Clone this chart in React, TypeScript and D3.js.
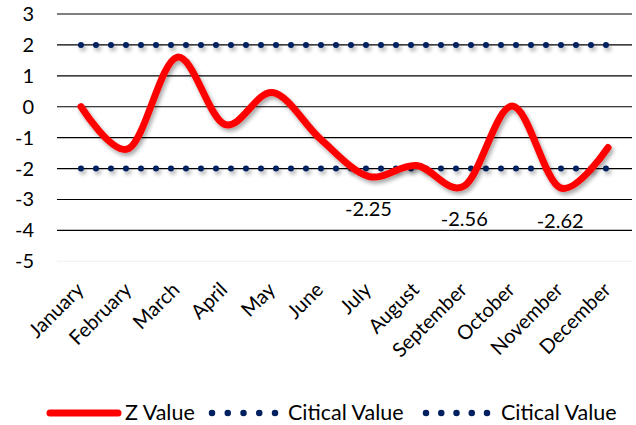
import React from "react";
import * as d3 from "d3";

const months = ["January","February","March","April","May","June","July","August","September","October","November","December"];
const zValues = [0, -1.35, 1.6, -0.57, 0.46, -1.05, -2.25, -1.9, -2.56, 0.02, -2.62, -1.32];
const upperCritical = [2,2,2,2,2,2,2,2,2,2,2,2];
const lowerCritical = [-2,-2,-2,-2,-2,-2,-2,-2,-2,-2,-2,-2];
const yTicks = [3,2,1,0,-1,-2,-3,-4,-5];
const labeledPoints = [6, 8, 10];
const legendItems = ["Z Value", "Citical Value", "Citical Value"];

const W = 636, H = 425;
const FONT = "Lato, Carlito, Calibri, sans-serif";

export default function App() {
  const x = d3.scaleBand<string>().domain(months).range([57, 632]);
  const cx = (m: string) => (x(m) as number) + x.bandwidth() / 2;
  const y = d3.scaleLinear().domain([-5, 3]).range([261.3, 14]);
  const line = d3.line<number>()
    .x((_, i) => cx(months[i]))
    .y((d) => y(d))
    .curve(d3.curveCardinal.tension(0));
  const straight = d3.line<number>()
    .x((_, i) => cx(months[i]))
    .y((d) => y(d));

  return (
    <svg width={W} height={H} style={{ position: "absolute", left: 0, top: 0, background: "#fff" }} fontFamily={FONT}>
      <defs>
        <filter id="sh" filterUnits="userSpaceOnUse" x={0} y={0} width={W} height={H}>
          <feGaussianBlur in="SourceAlpha" stdDeviation="2" />
          <feOffset dx="2" dy="3" result="b" />
          <feComponentTransfer><feFuncA type="linear" slope="0.35" /></feComponentTransfer>
          <feMerge><feMergeNode /><feMergeNode in="SourceGraphic" /></feMerge>
        </filter>
      </defs>
      {yTicks.map((t) => (
        <g key={t}>
          <line x1={57} x2={632} y1={y(t)} y2={y(t)} stroke={t === -5 ? "#f0f0f0" : "#000"} strokeWidth={t === -5 ? 1 : 1.2} />
          <text x={34} y={y(t)} dy="0.35em" textAnchor="end" fontSize={20} fill="#000">{t}</text>
        </g>
      ))}
      {[upperCritical, lowerCritical].map((s, k) => (
        <path key={k} d={straight(s) as string} fill="none" stroke="#002060" strokeWidth={6} strokeDasharray="0 15" strokeLinecap="round" filter="url(#sh)" />
      ))}
      <path d={line(zValues) as string} fill="none" stroke="#ff0000" strokeWidth={7} strokeLinecap="round" filter="url(#sh)" />
      {labeledPoints.map((i) => (
        <text key={i} x={cx(months[i])} y={y(zValues[i]) + 40} textAnchor="middle" fontSize={20} fill="#000">{zValues[i].toFixed(2)}</text>
      ))}
      {months.map((m) => (
        <text key={m} transform={`translate(${cx(m) + 4},291) rotate(-45)`} textAnchor="end" fontSize={20} fill="#000">{m}</text>
      ))}
      <g>
        <line x1={50} x2={118} y1={413} y2={413} stroke="#ff0000" strokeWidth={7} strokeLinecap="round" />
        <text x={125} y={420} fontSize={21.5}>{legendItems[0]}</text>
        <line x1={212} x2={276} y1={413} y2={413} stroke="#002060" strokeWidth={6.5} strokeDasharray="0 15.75" strokeLinecap="round" />
        <text x={288} y={420} fontSize={21.5}>{legendItems[1]}</text>
        <line x1={426} x2={488} y1={413} y2={413} stroke="#002060" strokeWidth={6.5} strokeDasharray="0 15.25" strokeLinecap="round" />
        <text x={501} y={420} fontSize={21.5}>{legendItems[2]}</text>
      </g>
    </svg>
  );
}
